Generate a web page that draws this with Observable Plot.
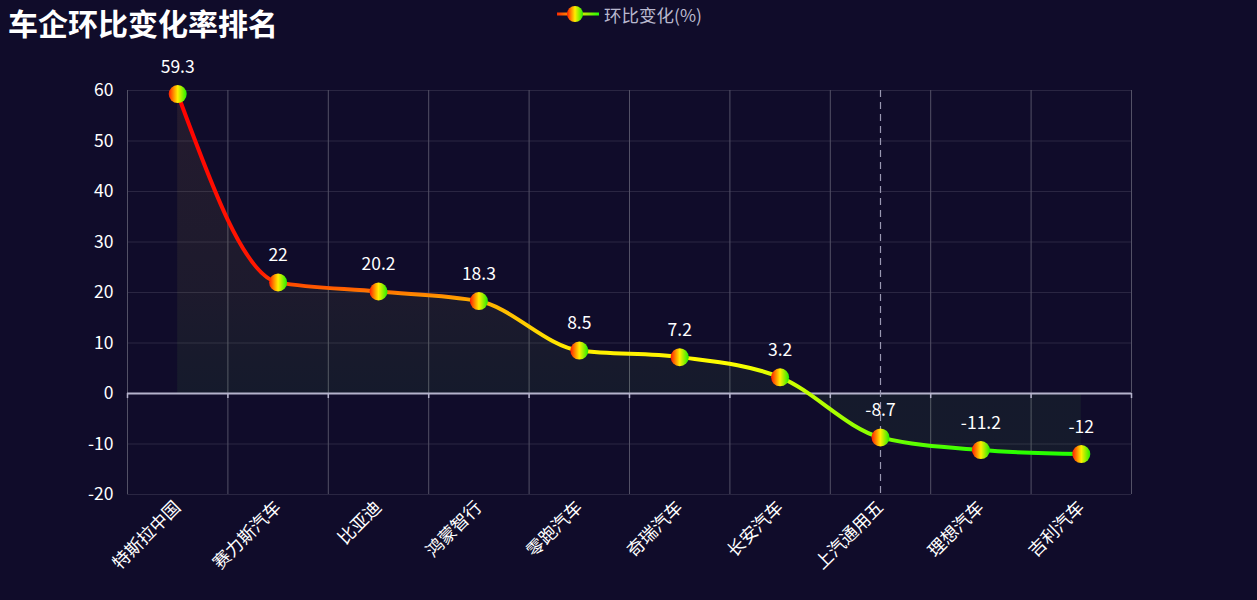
<!DOCTYPE html>
<html><head><meta charset="utf-8">
<script src="https://cdn.jsdelivr.net/npm/d3@7"></script>
<script src="https://cdn.jsdelivr.net/npm/@observablehq/plot@0.6"></script>
<style>
body{margin:0;background:#100c2a;font-family:"Microsoft YaHei","Noto Sans CJK SC",sans-serif;}
#wrap{width:1257px;height:600px;position:relative;overflow:hidden;background:#100c2a;}
#header{position:relative;height:40px;}
#title{position:absolute;left:8px;top:0px;font-size:30px;font-weight:bold;color:#fff;line-height:normal;white-space:nowrap;}
#legend{position:absolute;left:556px;top:3px;height:22px;display:flex;align-items:center;color:#b9b8ce;font-size:17.5px;white-space:nowrap;}
#legend svg{margin-right:4px;}
#chart svg{display:block;}
</style>
</head><body>
<div id="wrap">
  <div id="header"><div id="title"></div><div id="legend"></div></div>
  <div id="chart"></div>
</div>
<script>
const titleText = "车企环比变化率排名";
const seriesName = "环比变化(%)";
const categories = ["特斯拉中国","赛力斯汽车","比亚迪","鸿蒙智行","零跑汽车","奇瑞汽车","长安汽车","上汽通用五","理想汽车","吉利汽车"];
const values = [59.3, 22, 20.2, 18.3, 8.5, 7.2, 3.2, -8.7, -11.2, -12];
const yTicks = [-20, -10, 0, 10, 20, 30, 40, 50, 60];
const highlighted = "上汽通用五";

(function () {
const font = '"Microsoft YaHei","Noto Sans CJK SC",sans-serif';
document.getElementById("title").textContent = titleText;

const data = categories.map((name, i) => ({i, name, value: values[i]}));
const bounds = d3.range(categories.length + 1).map(k => k - 0.5);

const W = 1257, H = 560, mt = 50, mb = 106, ml = 127, mr = 126;

const chart = Plot.plot({
  width: W, height: H,
  marginTop: mt, marginBottom: mb, marginLeft: ml, marginRight: mr,
  style: {background: "transparent", color: "#fff", fontFamily: font, fontSize: "17px", overflow: "visible"},
  x: {type: "linear", domain: [-0.5, categories.length - 0.5]},
  y: {domain: [-20, 60]},
  marks: [
    Plot.ruleY(yTicks, {stroke: "#2a2642", strokeWidth: 1}),
    Plot.ruleX(bounds, {stroke: "#535166", strokeWidth: 1}),
    Plot.area(data, {x1: "i", y1: 0, y2: "value", curve: "monotone-x", fill: "url(#areaGrad)"}),
    Plot.ruleY([0], {stroke: "#b5b3cc", strokeWidth: 2}),
    Plot.ruleX(bounds, {y1: 0, y2: -1, stroke: "#b5b3cc", strokeWidth: 1.5}),
    Plot.line(data, {x: "i", y: "value", curve: "monotone-x", stroke: "url(#lineGrad)", strokeWidth: 4}),
    Plot.ruleX([categories.indexOf(highlighted)], {stroke: "#9a98b2", strokeDasharray: "7,5", strokeWidth: 1.2}),
    Plot.dot(data, {x: "i", y: "value", r: 9, fill: "url(#dotGrad)", stroke: "none"}),
    Plot.text(data, {x: "i", y: "value", text: d => String(d.value), dy: -27, fill: "#fff", fontSize: 17.5}),
    Plot.axisY({ticks: yTicks, tickFormat: d => String(d), tickSize: 0, tickPadding: 14, fontSize: 17.5, fill: "#fff", label: null}),
    Plot.axisX({ticks: d3.range(categories.length), tickFormat: i => categories[i], tickSize: 0, tickPadding: 10,
      tickRotate: -45, textAnchor: "end", lineAnchor: "middle", fontSize: 17.5, fill: "#fff", label: null})
  ]
});

// gradients tied to the y scale
const yScale = chart.scale("y");
const ys = v => yScale.apply(v);
const svg = d3.select(chart);
const defs = svg.insert("defs", ":first-child");
const yTop = ys(60), yBot = ys(-20);
const off = v => (ys(v) - yTop) / (yBot - yTop);

const lineStops = [[59.3,"#ff0000"],[24,"#ff1800"],[21,"#ff5a00"],[18.3,"#ffb000"],[12,"#ffd800"],[8.5,"#ffee00"],[6,"#ffff00"],[3.2,"#d2ff00"],[-4,"#a8ff00"],[-8.7,"#84ff00"],[-11,"#3cff00"],[-12,"#22ff00"]];
const lg = defs.append("linearGradient").attr("id", "lineGrad").attr("gradientUnits", "userSpaceOnUse")
  .attr("x1", 0).attr("x2", 0).attr("y1", yTop).attr("y2", yBot);
lineStops.forEach(([v, c]) => lg.append("stop").attr("offset", off(v)).attr("stop-color", c));

const areaStops = [[59.3,"rgb(240,170,90)",0.09],[20,"rgb(200,210,80)",0.07],[0,"rgb(100,245,70)",0.06],[-12,"rgb(100,245,70)",0.06]];
const ag = defs.append("linearGradient").attr("id", "areaGrad").attr("gradientUnits", "userSpaceOnUse")
  .attr("x1", 0).attr("x2", 0).attr("y1", yTop).attr("y2", yBot);
areaStops.forEach(([v, c, o]) => ag.append("stop").attr("offset", off(v)).attr("stop-color", c).attr("stop-opacity", o));

const dotStops = [[0,"#ff1a00"],[0.5,"#ffee00"],[1,"#22ee00"]];
const dg = defs.append("linearGradient").attr("id", "dotGrad").attr("x1", 0).attr("x2", 1).attr("y1", 0).attr("y2", 0);
dotStops.forEach(([o, c]) => dg.append("stop").attr("offset", o).attr("stop-color", c));

document.getElementById("chart").appendChild(chart);

// legend
const leg = d3.select("#legend");
const ls = leg.append("svg").attr("width", 44).attr("height", 20);
const ldefs = ls.append("defs");
const llg = ldefs.append("linearGradient").attr("id", "legLine").attr("x1", 0).attr("x2", 1).attr("y1", 0).attr("y2", 0);
[[0,"#ff2a00"],[0.5,"#ffdd00"],[1,"#22ff00"]].forEach(([o, c]) => llg.append("stop").attr("offset", o).attr("stop-color", c));
const ldg = ldefs.append("linearGradient").attr("id", "legDot").attr("x1", 0).attr("x2", 1).attr("y1", 0).attr("y2", 0);
dotStops.forEach(([o, c]) => ldg.append("stop").attr("offset", o).attr("stop-color", c));
ls.append("rect").attr("x", 1).attr("y", 8.5).attr("width", 42).attr("height", 3).attr("fill", "url(#legLine)");
ls.append("circle").attr("cx", 19).attr("cy", 10).attr("r", 8).attr("fill", "url(#legDot)");
leg.append("span").text(seriesName);
})();
</script>
</body></html>
